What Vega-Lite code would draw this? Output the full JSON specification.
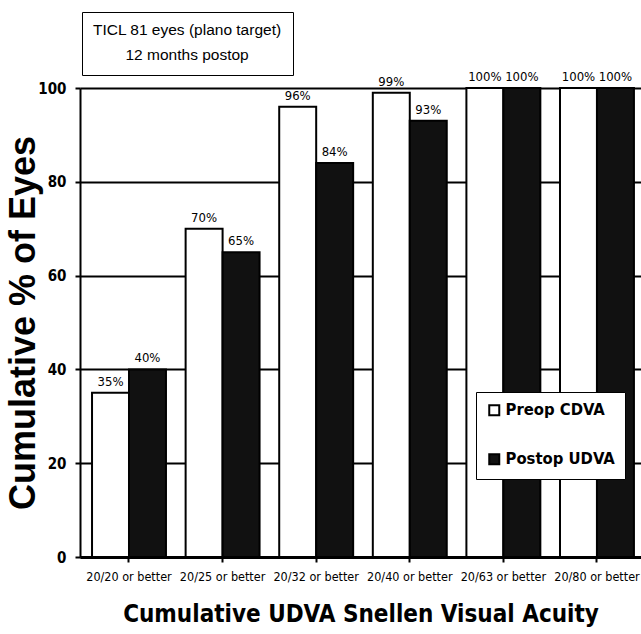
{
  "$schema": "https://vega.github.io/schema/vega-lite/v6.json",
  "autosize": {"type": "none"},
  "padding": {"left": 80, "top": 88, "right": 0, "bottom": 77},
  "width": 561,
  "height": 469,
  "background": "white",
  "config": {
    "view": {"stroke": null},
    "font": "Liberation Sans"
  },
  "data": {
    "values": [
      {"acuity": "20/20 or better", "group": "Preop CDVA", "pct": 35, "lab": "35%"},
      {"acuity": "20/20 or better", "group": "Postop UDVA", "pct": 40, "lab": "40%"},
      {"acuity": "20/25 or better", "group": "Preop CDVA", "pct": 70, "lab": "70%"},
      {"acuity": "20/25 or better", "group": "Postop UDVA", "pct": 65, "lab": "65%"},
      {"acuity": "20/32 or better", "group": "Preop CDVA", "pct": 96, "lab": "96%"},
      {"acuity": "20/32 or better", "group": "Postop UDVA", "pct": 84, "lab": "84%"},
      {"acuity": "20/40 or better", "group": "Preop CDVA", "pct": 99, "lab": "99%"},
      {"acuity": "20/40 or better", "group": "Postop UDVA", "pct": 93, "lab": "93%"},
      {"acuity": "20/63 or better", "group": "Preop CDVA", "pct": 100, "lab": "100%"},
      {"acuity": "20/63 or better", "group": "Postop UDVA", "pct": 100, "lab": "100%"},
      {"acuity": "20/80 or better", "group": "Preop CDVA", "pct": 100, "lab": "100%"},
      {"acuity": "20/80 or better", "group": "Postop UDVA", "pct": 100, "lab": "100%"}
    ]
  },
  "encoding": {
    "x": {
      "field": "acuity", "type": "nominal", "sort": null,
      "scale": {"paddingInner": 0.21, "paddingOuter": 0.102, "align": 0.63},
      "axis": {
        "title": "Cumulative UDVA Snellen Visual Acuity",
        "titleFont": "DejaVu Sans Condensed", "titleFontSize": 24, "titleFontWeight": "bold", "titleColor": "black",
        "titlePadding": 20,
        "labelAngle": 0, "labelFont": "DejaVu Sans Condensed", "labelFontSize": 12.5, "labelColor": "black", "labelFontWeight": 500,
        "labelPadding": 8,
        "domainColor": "black", "domainWidth": 3,
        "tickColor": "black", "tickWidth": 2, "tickSize": 5,
        "labelLimit": 200
      }
    },
    "xOffset": {"field": "group", "type": "nominal", "sort": ["Preop CDVA", "Postop UDVA"], "scale": {"paddingInner": 0, "paddingOuter": 0}},
    "y": {
      "field": "pct", "type": "quantitative",
      "scale": {"domain": [0, 100], "nice": false},
      "axis": {
        "title": "Cumulative % of Eyes",
        "titleFont": "Liberation Sans", "titleFontSize": 36, "titleFontWeight": "bold", "titleColor": "black",
        "titlePadding": -5,
        "values": [0, 20, 40, 60, 80, 100],
        "labelFont": "DejaVu Sans Condensed", "labelFontSize": 15, "labelFontWeight": "bold", "labelColor": "black", "labelPadding": 9,
        "grid": true, "gridColor": "black", "gridWidth": 2, "gridOpacity": 1,
        "domainColor": "black", "domainWidth": 2,
        "tickColor": "black", "tickWidth": 2, "tickSize": 5
      }
    }
  },
  "layer": [
    {
      "mark": {"type": "bar", "stroke": "black", "strokeWidth": 2, "strokeJoin": "miter"},
      "encoding": {
        "fill": {
          "field": "group", "type": "nominal",
          "scale": {"domain": ["Preop CDVA", "Postop UDVA"], "range": ["white", "#111111"]},
          "legend": {
            "title": null, "orient": "none", "legendX": 396, "legendY": 304,
            "strokeColor": "black", "fillColor": "white", "padding": 10,
            "labelFontSize": 16.5, "labelFontWeight": "bold", "labelColor": "black", "labelFont": "DejaVu Sans Condensed",
            "symbolType": "square", "symbolSize": 100, "symbolStrokeColor": "black", "symbolStrokeWidth": 2,
            "rowPadding": 30, "labelOffset": 3
          }
        }
      }
    },
    {
      "mark": {"type": "text", "baseline": "bottom", "dy": -4, "fontSize": 13, "font": "DejaVu Sans Condensed", "color": "black"},
      "encoding": {"text": {"field": "lab"}}
    },
    {
      "mark": {"type": "point", "opacity": 0},
      "encoding": {
        "shape": {
          "datum": "12 months postop",
          "legend": {
            "title": "TICL 81 eyes (plano target)",
            "orient": "none", "legendX": 2, "legendY": -76,
            "strokeColor": "black", "fillColor": "white", "padding": 11,
            "titleFont": "Liberation Sans", "titleFontSize": 15.5, "titleFontWeight": "normal", "titleColor": "black", "titleAnchor": "start", "titlePadding": 9, "titleLimit": 400,
            "labelFont": "Liberation Sans", "labelFontSize": 15.5, "labelColor": "black", "labelAlign": "left", "labelOffset": 17,
            "symbolSize": 0, "symbolOpacity": 0, "symbolStrokeWidth": 0
          }
        }
      }
    }
  ]
}
